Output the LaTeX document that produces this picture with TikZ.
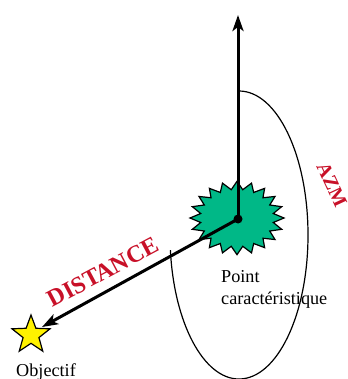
\documentclass[tikz,border=0pt]{standalone}
\usepackage{fontspec}
\setmainfont{Liberation Serif}
\usetikzlibrary{shapes.geometric,arrows.meta}
\definecolor{burst}{RGB}{0,184,135}
\definecolor{lbl}{RGB}{200,16,40}
\tikzset{
  axisline/.style={line width=3pt,-{Stealth[length=16pt,width=11pt,inset=4pt]}},
  orbit/.style={line width=1.2pt},
  redlabel/.style={text=lbl,font=\bfseries\fontsize{24}{24}\selectfont,inner sep=0pt},
  captxt/.style={font=\fontsize{18.2}{20}\selectfont,inner sep=0pt,align=left,anchor=west}
}
\begin{document}
\begin{tikzpicture}[x=1pt,y=-1pt]
\useasboundingbox (0,0) rectangle (347,379);
\begin{scope}
\clip (0,0) rectangle (347,379);
\draw[orbit] (239,91) arc[start angle=-90,end angle=174,x radius=69,y radius=144];
\end{scope}
\node[star,star points=20,star point ratio=1.28,minimum size=94pt,inner sep=0pt,draw=black,line width=1.2pt,fill=burst,yscale=.78,transform shape] (burst) at (237,218) {};
\node[star,star points=5,star point ratio=2.4,minimum size=40pt,inner sep=0pt,draw=black,line width=1.2pt,fill=yellow] (obj) at (31,335) {};
\node[circle,fill=black,inner sep=0pt,minimum size=9pt] (pt) at (238,219) {};
\coordinate (top) at (238,15);
\coordinate (tip) at (42,327);
\draw[axisline] (pt.center) -- (top);
\draw[axisline] (pt.center) -- (tip);
\node[redlabel,rotate=28] (dist) at (103,272) {DISTANCE};
\node[redlabel,rotate=-65,font=\bfseries\fontsize{20}{20}\selectfont] (azm) at (332,185) {AZM};
\node[captxt] (pc) at (221,277) {Point};
\node[captxt] (car) at (221,300) {caractéristique};
\node[captxt] (objt) at (16,372) {Objectif};
\end{tikzpicture}
\end{document}
